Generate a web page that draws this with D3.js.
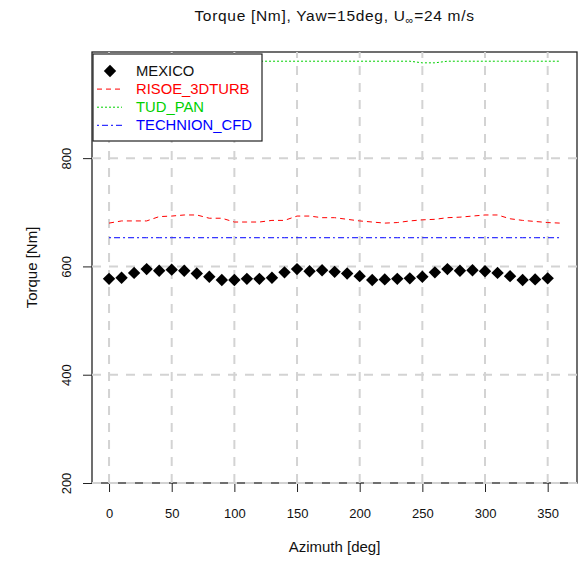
<!DOCTYPE html>
<html><head><meta charset="utf-8">
<script src="https://cdn.jsdelivr.net/npm/d3@7"></script>
<style>body{margin:0;background:#fff;} svg{display:block;} text{font-family:"Liberation Sans",Arial,sans-serif;}</style>
</head><body>
<script>
const azMexico = d3.range(0, 360, 10);
const mexico = [577,579,588,595,592,594,592,587,581,575,575,577,577,579,589,595,591,593,590,587,582,575,576,577,578,581,589,595,592,593,591,588,582,575,576,578];
const azLines = d3.range(0, 361, 10);
const risoe = [680,684,684,684,692,693,695,695,689,689,682,682,682,685,685,693,693,690,690,687,684,682,680,681,684,686,687,690,691,693,695,695,688,685,683,681,680];
const tudPan = [979,979,979,979,979,979,979,979,979,979,979,979,979,979,979,979,979,979,979,979,979,979,979,979,979,976,976,979,979,979,979,979,979,979,979,979,979];
const technion = [653,653,653,653,653,653,653,653,653,653,653,653,653,653,653,653,653,653,653,653,653,653,653,653,653,653,653,653,653,653,653,653,653,653,653,653,653];
const xTicks = [0,50,100,150,200,250,300,350];
const yTicks = [200,400,600,800];
const seriesNames = ["MEXICO","RISOE_3DTURB","TUD_PAN","TECHNION_CFD"];
const seriesColors = ["#000000","#ff0000","#00d000","#0000ff"];

const W = 581, H = 562;
const L = 92, R = 577, T = 52, B = 483;
const svg = d3.select("body").append("svg").attr("width", W).attr("height", H);
const x = d3.scaleLinear().domain([-13.6, 373.4]).range([L, R]);
const y = d3.scaleLinear().domain([200, 996]).range([B, T]);

// box
svg.append("rect").attr("x", L).attr("y", T).attr("width", R - L).attr("height", B - T)
  .attr("fill", "none").attr("stroke", "#222").attr("stroke-width", 1.3);

// axes ticks
const xAxis = svg.append("g").attr("transform", `translate(0,${B})`)
  .call(d3.axisBottom(x).tickValues(xTicks).tickSize(9).tickPadding(17).tickFormat(d3.format("d")));
xAxis.select(".domain").remove();
xAxis.selectAll("text").attr("font-size", 13).attr("fill", "#111");
xAxis.selectAll("line").attr("stroke", "#222");
const yAxis = svg.append("g").attr("transform", `translate(${L},0)`)
  .call(d3.axisLeft(y).tickValues(yTicks).tickSize(9).tickFormat(d3.format("d")));
yAxis.select(".domain").remove();
yAxis.selectAll("line").attr("stroke", "#222");
yAxis.selectAll("text").attr("font-size", 13).attr("fill", "#111")
  .attr("text-anchor", "middle").attr("x", null).attr("dy", null)
  .attr("transform", d => `translate(${-21},${0}) rotate(-90)`);

// grid
const grid = svg.append("g").attr("stroke", "#d3d3d3").attr("stroke-width", 2).attr("stroke-dasharray", "9,8");
grid.selectAll(".v").data(xTicks).join("line").attr("x1", d => x(d)).attr("x2", d => x(d)).attr("y1", B).attr("y2", T);
grid.selectAll(".h").data(yTicks).join("line").attr("y1", d => y(d)).attr("y2", d => y(d)).attr("x1", L).attr("x2", R);

// lines
const line = d3.line().x(d => x(d[0])).y(d => y(d[1]));
const lineData = [
  {vals: risoe, color: seriesColors[1], dash: "5,4"},
  {vals: tudPan, color: seriesColors[2], dash: "2,2"},
  {vals: technion, color: seriesColors[3], dash: "2,3,6,3"}
];
lineData.forEach(s => {
  svg.append("path").datum(azLines.map((a, i) => [a, s.vals[i]]))
    .attr("d", line).attr("fill", "none").attr("stroke", s.color).attr("stroke-width", 1)
    .attr("stroke-dasharray", s.dash);
});
const diamond = (r) => `M0,${-r}L${r},0L0,${r}L${-r},0Z`;
svg.append("g").selectAll("path").data(azMexico.map((a, i) => [a, mexico[i]])).join("path")
  .attr("d", diamond(6.2)).attr("transform", d => `translate(${x(d[0])},${y(d[1])})`).attr("fill", "#000");

// legend
const lg = svg.append("g");
lg.append("rect").attr("x", 93).attr("y", 54).attr("width", 169).attr("height", 87)
  .attr("fill", "#fff").attr("stroke", "#222").attr("stroke-width", 1.2);
seriesNames.forEach((n, i) => {
  const cy = 71 + i * 18.1;
  if (i === 0) {
    lg.append("path").attr("d", diamond(6.2)).attr("transform", `translate(110,${cy})`).attr("fill", "#000");
  } else {
    lg.append("line").attr("x1", 97).attr("x2", 122).attr("y1", cy).attr("y2", cy)
      .attr("stroke", seriesColors[i]).attr("stroke-dasharray", lineData[i - 1].dash);
  }
  lg.append("text").attr("x", 136).attr("y", cy + 5).attr("font-size", 14.8).attr("fill", i === 0 ? "#111" : seriesColors[i]).text(n);
});

// titles
const title = svg.append("text").attr("x", (L + R) / 2).attr("y", 21).attr("text-anchor", "middle").attr("font-size", 15.5).attr("letter-spacing", 0.7).attr("fill", "#111");
title.append("tspan").text("Torque [Nm], Yaw=15deg, U");
title.append("tspan").attr("font-size", 11).attr("dy", 3).text("∞");
title.append("tspan").attr("dy", -3).text("=24 m/s");
svg.append("text").attr("x", (L + R) / 2).attr("y", 552).attr("text-anchor", "middle").attr("font-size", 15).attr("fill", "#111").text("Azimuth [deg]");
svg.append("text").attr("transform", `translate(37,${(T + B) / 2}) rotate(-90)`).attr("text-anchor", "middle").attr("font-size", 15).attr("fill", "#111").text("Torque [Nm]");
</script>
</body></html>
